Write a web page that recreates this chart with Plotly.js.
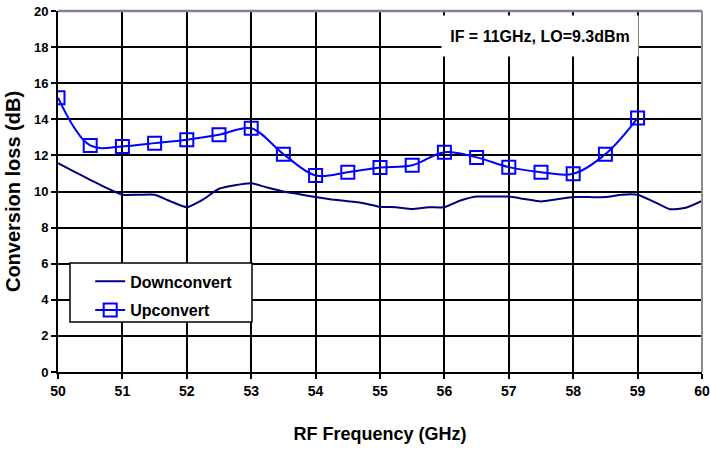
<!DOCTYPE html>
<html>
<head>
<meta charset="utf-8">
<script src="https://cdn.plot.ly/plotly-3.0.1.min.js"></script>
<style>html,body{margin:0;padding:0;background:#fff;}#chart{width:710px;height:452px;}</style>
</head>
<body>
<div id="chart"></div>
<script>
// Downconvert (RF frequency GHz, conversion loss dB)
const downFreq = [50,50.25,50.5,50.75,51,51.25,51.5,51.75,52,52.25,52.5,52.75,53,53.25,53.5,53.75,54,54.25,54.5,54.75,55,55.25,55.5,55.75,56,56.25,56.5,56.75,57,57.25,57.5,57.75,58,58.25,58.5,58.75,59,59.25,59.5,59.75,60];
const downLoss = [11.57,11.1,10.65,10.2,9.82,9.82,9.82,9.45,9.13,9.55,10.15,10.35,10.46,10.22,10.0,9.85,9.69,9.56,9.46,9.35,9.15,9.13,9.03,9.13,9.13,9.5,9.72,9.72,9.72,9.58,9.45,9.57,9.69,9.69,9.69,9.82,9.82,9.44,9.02,9.1,9.48];
// Upconvert
const upFreq = [50,50.5,51,51.5,52,52.5,53,53.5,54,54.5,55,55.5,56,56.5,57,57.5,58,58.5,59];
const upLoss = [15.2,12.55,12.5,12.68,12.87,13.14,13.5,12.07,10.89,11.07,11.33,11.45,12.18,11.89,11.35,11.07,10.98,12.07,14.07];
const xTicks = [50,51,52,53,54,55,56,57,58,59,60];
const yTicks = [0,2,4,6,8,10,12,14,16,18,20];
const seriesNames = ['Downconvert','Upconvert'];
const xTitle = 'RF Frequency (GHz)';
const yTitle = 'Conversion loss (dB)';
const noteText = 'IF = 11GHz, LO=9.3dBm';

const FONT = 'Arial, "Liberation Sans", sans-serif';

const traces = [
  {x: downFreq, y: downLoss, name: seriesNames[0], type: 'scatter', mode: 'lines',
   legendgroup: 'a',
   line: {color: '#000080', width: 2, shape: 'spline', smoothing: 0.5}},
  {x: upFreq, y: upLoss, name: seriesNames[1], type: 'scatter', mode: 'lines+markers',
   legendgroup: 'b',
   line: {color: '#0000FF', width: 2, shape: 'spline', smoothing: 1},
   marker: {symbol: 'square-open', size: 13, color: '#0000FF', line: {width: 2, color: '#0000FF'}}}
];

const axisCommon = {
  showgrid: true, gridcolor: '#000000', gridwidth: 2,
  showline: true, linecolor: '#000000', linewidth: 2,
  ticks: 'outside', ticklen: 5, tickwidth: 2, tickcolor: '#000000',
  zeroline: false, fixedrange: true
};

const layout = {
  width: 710, height: 452,
  margin: {l: 58, r: 8, t: 11, b: 80},
  paper_bgcolor: '#ffffff', plot_bgcolor: '#ffffff',
  font: {family: FONT, color: '#000000'},
  showlegend: true,
  xaxis: Object.assign({}, axisCommon, {
    range: [50, 60], tickvals: xTicks, ticktext: xTicks.map(String),
    tickfont: {family: FONT, size: 14, weight: 'bold'},
    title: {text: xTitle, font: {family: FONT, size: 18, weight: 'bold'}, standoff: 30}
  }),
  yaxis: Object.assign({}, axisCommon, {
    range: [0, 20], tickvals: yTicks, ticktext: yTicks.map(String),
    tickfont: {family: FONT, size: 13, weight: 'bold'},
    title: {text: yTitle, font: {family: FONT, size: 20, weight: 'bold'}, standoff: 8}
  }),
  legend: {
    x: 0.05, y: 0.298, xanchor: 'left', yanchor: 'top',
    bgcolor: 'rgba(0,0,0,0)', borderwidth: 0,
    font: {family: FONT, size: 16, weight: 'bold'},
    tracegroupgap: 5
  },
  shapes: [
    {type: 'rect', xref: 'paper', yref: 'paper', x0: 0.0186, x1: 0.3012, y0: 0.1385, y1: 0.302,
     fillcolor: '#ffffff', line: {color: '#000000', width: 1.5}, layer: 'above'},
    {type: 'line', xref: 'paper', yref: 'paper', x0: 0, x1: 1, y0: 1, y1: 1,
     line: {color: '#7f7f9f', width: 2.5}, layer: 'above'},
    {type: 'line', xref: 'paper', yref: 'paper', x0: 1, x1: 1, y0: 0, y1: 1,
     line: {color: '#8c8c8c', width: 2}, layer: 'above'}
  ],
  annotations: [
    {text: noteText, xref: 'paper', yref: 'paper', x: 0.749, y: 0.932,
     xanchor: 'center', yanchor: 'middle', showarrow: false,
     bgcolor: '#ffffff', width: 182, height: 26, borderpad: 7,
     font: {family: FONT, size: 16, weight: 'bold', color: '#000000'}}
  ]
};

Plotly.newPlot('chart', traces, layout, {displayModeBar: false, staticPlot: true});
</script>
</body>
</html>
